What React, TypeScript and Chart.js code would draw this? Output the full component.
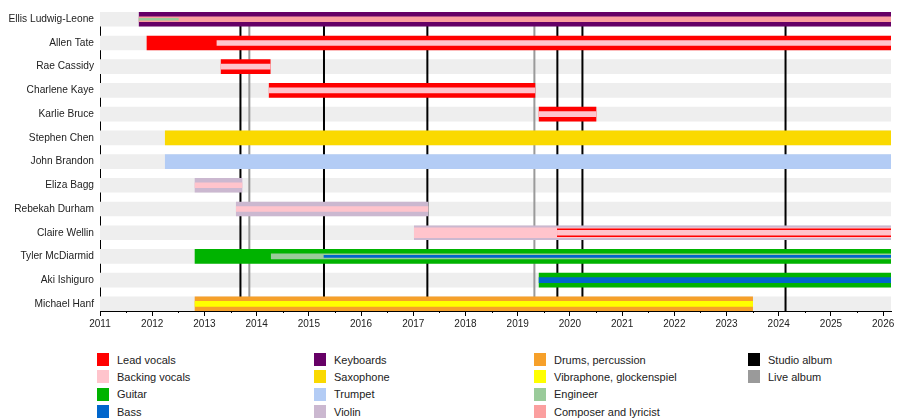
import { useEffect, useRef } from "react";
import { Chart, registerables } from "chart.js";

Chart.register(...registerables);

const members = [
  "Ellis Ludwig-Leone",
  "Allen Tate",
  "Rae Cassidy",
  "Charlene Kaye",
  "Karlie Bruce",
  "Stephen Chen",
  "John Brandon",
  "Eliza Bagg",
  "Rebekah Durham",
  "Claire Wellin",
  "Tyler McDiarmid",
  "Aki Ishiguro",
  "Michael Hanf",
];

const years = [2011, 2012, 2013, 2014, 2015, 2016, 2017, 2018, 2019, 2020, 2021, 2022, 2023, 2024, 2025, 2026];
const timelineStart = 2011;
const timelineEnd = 2026.15;

const roles = [
  "Lead vocals",
  "Backing vocals",
  "Guitar",
  "Bass",
  "Keyboards",
  "Saxophone",
  "Trumpet",
  "Violin",
  "Drums, percussion",
  "Vibraphone, glockenspiel",
  "Engineer",
  "Composer and lyricist",
];
const roleColors = [
  "#ff0000",
  "#ffc4cc",
  "#00b300",
  "#0066cc",
  "#660066",
  "#fad900",
  "#b3ccf5",
  "#cbb8d0",
  "#f6a02a",
  "#ffff00",
  "#9acb9a",
  "#fb9f9f",
];

const albumKinds = ["Studio album", "Live album"];
const albumColors = ["#000000", "#9a9a9a"];
const studioAlbums = [2013.69, 2015.29, 2017.27, 2019.76, 2020.24, 2024.13];
const liveAlbums = [2013.86, 2019.32];

// [member, role, from, to]
type Span = [string, string, number, number];
const END = timelineEnd;

const mainSpans: Span[] = [
  ["Ellis Ludwig-Leone", "Keyboards", 2011.75, END],
  ["Allen Tate", "Lead vocals", 2011.9, END],
  ["Rae Cassidy", "Lead vocals", 2013.32, 2014.26],
  ["Charlene Kaye", "Lead vocals", 2014.24, 2019.33],
  ["Karlie Bruce", "Lead vocals", 2019.41, 2020.5],
  ["Stephen Chen", "Saxophone", 2012.25, END],
  ["John Brandon", "Trumpet", 2012.25, END],
  ["Eliza Bagg", "Violin", 2012.82, 2013.72],
  ["Rebekah Durham", "Violin", 2013.61, 2017.28],
  ["Claire Wellin", "Violin", 2017.02, END],
  ["Tyler McDiarmid", "Guitar", 2012.82, END],
  ["Aki Ishiguro", "Guitar", 2019.41, END],
  ["Michael Hanf", "Drums, percussion", 2012.82, 2023.5],
];

const wideStripeSpans: Span[] = [["Claire Wellin", "Backing vocals", 2017.02, END]];

const midStripeSpans: Span[] = [["Claire Wellin", "Lead vocals", 2019.76, END]];

const stripeSpans: Span[] = [
  ["Ellis Ludwig-Leone", "Composer and lyricist", 2011.75, END],
  ["Allen Tate", "Backing vocals", 2013.24, END],
  ["Rae Cassidy", "Backing vocals", 2013.32, 2014.26],
  ["Charlene Kaye", "Backing vocals", 2014.24, 2019.33],
  ["Karlie Bruce", "Backing vocals", 2019.41, 2020.5],
  ["Eliza Bagg", "Backing vocals", 2012.82, 2013.72],
  ["Rebekah Durham", "Backing vocals", 2013.61, 2017.28],
  ["Claire Wellin", "Backing vocals", 2019.76, END],
  ["Tyler McDiarmid", "Engineer", 2014.28, END],
  ["Aki Ishiguro", "Bass", 2019.41, END],
  ["Michael Hanf", "Vibraphone, glockenspiel", 2012.82, 2023.5],
];

const fineSpans: Span[] = [
  ["Ellis Ludwig-Leone", "Engineer", 2011.75, 2012.5],
  ["Tyler McDiarmid", "Bass", 2015.29, END],
];

const FONT = "'Liberation Sans', Arial, sans-serif";
const rowPad = 0.3;
const legendCols = [97, 314, 534, 748];

const colorOf = (role: string) => roleColors[roles.indexOf(role)];

const minorTicks = {
  id: "minorTicks",
  afterDraw(chart: any) {
    const x = chart.scales.x;
    const ctx = chart.ctx;
    ctx.save();
    ctx.strokeStyle = "#000";
    ctx.lineWidth = 1;
    years.slice(0, -1).forEach((y) => {
      const px = Math.round(x.getPixelForValue(y + 0.5)) + 0.5;
      ctx.beginPath();
      ctx.moveTo(px, x.top);
      ctx.lineTo(px, x.top + 2);
      ctx.stroke();
    });
    ctx.restore();
  },
};

function Timeline() {
  const canvasRef = useRef<HTMLCanvasElement>(null);

  useEffect(() => {
    const ctx = canvasRef.current?.getContext("2d");
    if (!ctx) return;

    const yMin = -rowPad;
    const yMax = members.length - 1 + rowPad;

    const bands: any = {
      type: "bar",
      data: members.map((_, i) => ({ x: [timelineStart, timelineEnd], y: i })),
      backgroundColor: "#eeeeee",
      barThickness: 14,
      grouped: false,
      order: 100,
    };

    const albumLine = (d: number, color: string): any => ({
      type: "line",
      data: [
        { x: d, y: yMin },
        { x: d, y: yMax },
      ],
      borderColor: color,
      borderWidth: 2,
      pointRadius: 0,
      fill: false,
      order: 50,
    });

    const layers: [Span[], number][] = [
      [mainSpans, 14],
      [wideStripeSpans, 10],
      [midStripeSpans, 8],
      [stripeSpans, 5],
      [fineSpans, 2],
    ];

    const roleBars = layers.map(([spans, thickness], li): any => ({
      type: "bar",
      data: spans.map((s) => ({ x: [s[2], s[3]], y: members.indexOf(s[0]) })),
      backgroundColor: spans.map((s) => colorOf(s[1])),
      barThickness: thickness,
      grouped: false,
      order: 40 - li,
    }));

    const myChart = new Chart(ctx, {
      type: "bar",
      data: {
        datasets: [
          bands,
          ...studioAlbums.map((d) => albumLine(d, albumColors[0])),
          ...liveAlbums.map((d) => albumLine(d, albumColors[1])),
          ...roleBars,
        ],
      },
      options: {
        animation: false,
        responsive: false,
        indexAxis: "y",
        events: [],
        layout: { padding: { top: 11, right: 9, bottom: 0, left: 0 } },
        plugins: { legend: { display: false }, tooltip: { enabled: false } },
        scales: {
          x: {
            type: "linear",
            offset: false,
            min: timelineStart,
            max: timelineEnd,
            afterBuildTicks: (s: any) => {
              s.ticks = years.map((v) => ({ value: v }));
            },
            afterFit: (s: any) => {
              s.height = 24;
            },
            grid: { drawOnChartArea: false, tickLength: 5, color: "#000", offset: false },
            border: { color: "#000", width: 1 },
            ticks: {
              font: { family: FONT, size: 10 },
              color: "#222",
              padding: 2,
              maxRotation: 0,
              autoSkip: false,
              callback: (v: any) => String(v),
            },
          },
          y: {
            type: "linear",
            offset: false,
            reverse: true,
            min: yMin,
            max: yMax,
            afterBuildTicks: (s: any) => {
              s.ticks = members.map((_, i) => ({ value: i }));
            },
            afterFit: (s: any) => {
              s.width = 100;
            },
            grid: { display: false, drawTicks: false, offset: false },
            border: { color: "#000", width: 1 },
            ticks: {
              font: { family: FONT, size: 10.2 },
              color: "#222",
              padding: 6,
              autoSkip: false,
              callback: (v: any) => members[v] ?? "",
            },
          },
        },
      },
      plugins: [minorTicks],
    } as any);

    return () => {
      myChart.destroy();
    };
  }, []);

  return <canvas ref={canvasRef} width={900} height={335} style={{ display: "block" }} />;
}

function Legend() {
  const items = [
    ...roles.map((r, i) => [r, roleColors[i]]),
    ...albumKinds.map((a, i) => [a, albumColors[i]]),
  ];
  return (
    <>
      {items.map(([label, color], i) => (
        <div
          key={label}
          style={{
            position: "absolute",
            left: legendCols[Math.floor(i / 4)],
            top: 353 + (i % 4) * 17.4,
            height: 13,
            display: "flex",
            alignItems: "center",
            fontFamily: FONT,
            fontSize: 11,
            color: "#222",
            whiteSpace: "nowrap",
          }}
        >
          <span style={{ width: 12, height: 13, background: color, marginRight: 8, display: "inline-block" }} />
          {label}
        </div>
      ))}
    </>
  );
}

export default function App() {
  return (
    <div style={{ position: "absolute", left: 0, top: 0, width: 900, height: 420, background: "#fff" }}>
      <Timeline />
      <Legend />
    </div>
  );
}
